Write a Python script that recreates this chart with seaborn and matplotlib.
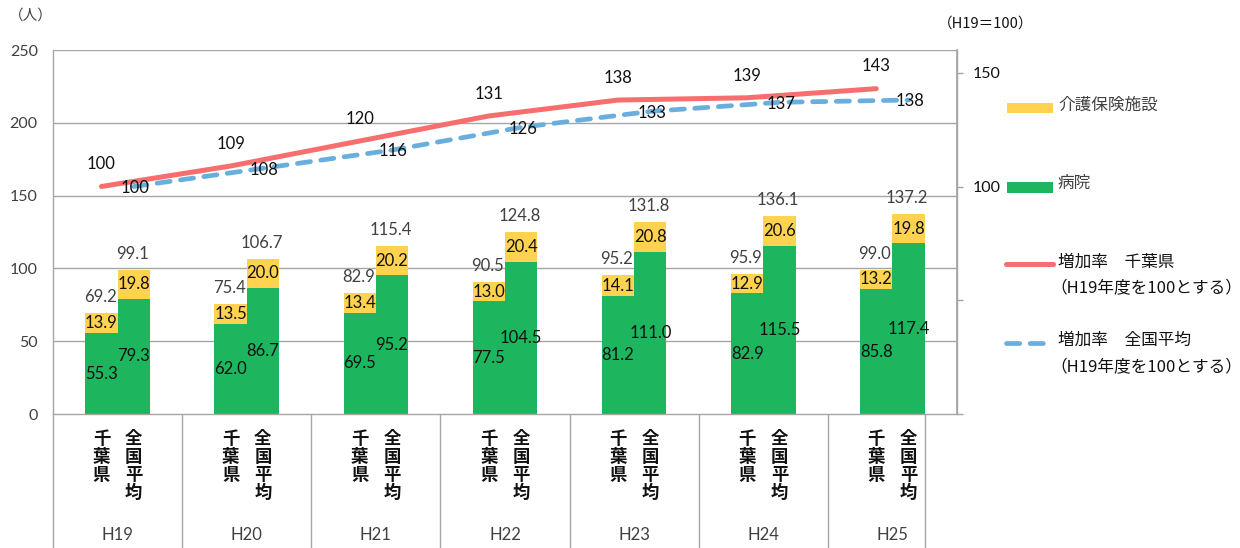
import matplotlib
matplotlib.use("Agg")
import matplotlib.pyplot as plt
from matplotlib.patches import Rectangle
from matplotlib.lines import Line2D
import seaborn as sns
import pandas as pd

# --- data -------------------------------------------------------------
years = ["H19", "H20", "H21", "H22", "H23", "H24", "H25"]
regions = ["千葉県", "全国平均"]

chiba_hospital = [55.3, 62.0, 69.5, 77.5, 81.2, 82.9, 85.8]
chiba_care = [13.9, 13.5, 13.4, 13.0, 14.1, 12.9, 13.2]
chiba_total = [69.2, 75.4, 82.9, 90.5, 95.2, 95.9, 99.0]

nation_hospital = [79.3, 86.7, 95.2, 104.5, 111.0, 115.5, 117.4]
nation_care = [19.8, 20.0, 20.2, 20.4, 20.8, 20.6, 19.8]
nation_total = [99.1, 106.7, 115.4, 124.8, 131.8, 136.1, 137.2]

chiba_index = [100, 109, 120, 131, 138, 139, 143]
nation_index = [100, 108, 116, 126, 133, 137, 138]

left_ticks = [0, 50, 100, 150, 200, 250]
right_ticks = [0, 50, 100, 150]
right_tick_labels = ["", "", "100", "150"]

legend_labels = ["介護保険施設", "病院", "増加率　千葉県", "増加率　全国平均"]
legend_note = "（H19年度を100とする）"

# --- style ------------------------------------------------------------
sns.set_theme(style="white")
plt.rcParams["font.family"] = ["Lato", "Noto Sans CJK JP", "DejaVu Sans"]

YELLOW = "#FFD24F"
GREEN = "#1DB65E"
RED = "#F76E6E"
BLUE = "#6AAEDD"
GRID = "#A6A6A6"
TXT = "#404040"
INK = "#111111"

W, H = 1240, 548
fig = plt.figure(figsize=(W / 100, H / 100), dpi=100)
fig.patch.set_facecolor("white")


def fx(px):
    return px / W


def fy(py):
    return 1 - py / H


ax = fig.add_axes([fx(53), fy(414), (957 - 53) / W, (414 - 50) / H])

rows = []
for i, y in enumerate(years):
    rows.append(dict(year=y, region=regions[0], total=chiba_total[i],
                     hospital=chiba_hospital[i], care=chiba_care[i]))
    rows.append(dict(year=y, region=regions[1], total=nation_total[i],
                     hospital=nation_hospital[i], care=nation_care[i]))
df = pd.DataFrame(rows)

# stacked bars: full height in yellow, hospital part in green over it
sns.barplot(data=df, x="year", y="total", hue="region", hue_order=regions,
            palette=[YELLOW, YELLOW], width=0.5, gap=0, dodge=True,
            errorbar=None, saturation=1, linewidth=0, legend=False, ax=ax,
            zorder=2)
sns.barplot(data=df, x="year", y="hospital", hue="region", hue_order=regions,
            palette=[GREEN, GREEN], width=0.5, gap=0, dodge=True,
            errorbar=None, saturation=1, linewidth=0, legend=False, ax=ax,
            zorder=2)

ax.set_xlim(-0.5, 6.5)
ax.set_ylim(0, 250)
ax.set_yticks(left_ticks)
ax.set_yticklabels([str(t) for t in left_ticks])
ax.tick_params(axis="y", length=0, pad=11, labelsize=11.5, labelcolor=TXT)
ax.set_xticks([])
ax.set_xlabel("")
ax.set_ylabel("")
ax.grid(False)
for t in left_ticks[1:]:
    ax.axhline(t, color=GRID, lw=1, zorder=1)
ax.spines["top"].set_visible(False)
for side in ["left", "right", "bottom"]:
    ax.spines[side].set_color(GRID)
    ax.spines[side].set_linewidth(1)

offsets = [-0.125, 0.125]
for i in range(len(years)):
    for j, (hosp, care, tot) in enumerate([
        (chiba_hospital[i], chiba_care[i], chiba_total[i]),
        (nation_hospital[i], nation_care[i], nation_total[i]),
    ]):
        xp = i + offsets[j]
        ax.text(xp, hosp / 2, f"{hosp:.1f}", ha="center", va="center",
                fontsize=12, color=INK, zorder=5)
        ax.text(xp, (hosp + tot) / 2, f"{care:.1f}", ha="center",
                va="center", fontsize=12, color=INK, zorder=5)
        ax.annotate(f"{tot:.1f}", (xp, tot), xytext=(-1, 11.5),
                    textcoords="offset points", ha="center", va="center",
                    fontsize=12, color=TXT, zorder=5)

# index lines on the secondary axis
ax2 = ax.twinx()
ax2.set_ylim(0, 160)
xs_chiba = [i + offsets[0] for i in range(len(years))]
xs_nation = [i + offsets[1] for i in range(len(years))]
DASH = (0, (2.8, 2.2))
sns.lineplot(x=xs_chiba, y=chiba_index, ax=ax2, color=RED, lw=3.6,
             solid_capstyle="round", zorder=3)
sns.lineplot(x=xs_nation, y=nation_index, ax=ax2, color=BLUE, lw=3.4,
             linestyle=DASH, dash_capstyle="round", zorder=3)
ax2.set_xlim(-0.5, 6.5)
ax2.set_yticks(right_ticks)
ax2.set_yticklabels(right_tick_labels)
ax2.tick_params(axis="y", direction="out", length=4, width=1, color=GRID,
                pad=7, labelsize=11.5, labelcolor=INK)
ax2.grid(False)
for side in ["top", "left", "bottom"]:
    ax2.spines[side].set_visible(False)
ax2.spines["right"].set_color(GRID)

for xp, v in zip(xs_chiba, chiba_index):
    ax2.annotate(str(v), (xp, v), xytext=(0, 16), textcoords="offset points",
                 ha="center", va="center", fontsize=12, color=INK, zorder=6)
for xp, v in zip(xs_nation, nation_index):
    ax2.annotate(str(v), (xp, v), xytext=(1, -1), textcoords="offset points",
                 ha="center", va="center", fontsize=12, color=INK, zorder=6)

# category area below the plot
trans = ax.get_xaxis_transform()
bottom = -(H - 414) / 364 - 0.01
for xb in [-0.5, 0.5, 1.5, 2.5, 3.5, 4.5, 5.5, 6.25]:
    ax.plot([xb, xb], [0, bottom], color=GRID, lw=1, transform=trans,
            clip_on=False, zorder=1)

cjk = ["Noto Sans CJK JP", "DejaVu Sans"]
for i, y in enumerate(years):
    for j, name in enumerate(regions):
        ax.text(i + offsets[j], -(430 - 414) / 364, "\n".join(name),
                transform=trans, ha="center", va="top", fontsize=12.5,
                linespacing=1.0, color=INK, family=cjk, fontweight="bold")
    ax.text(i, -(535 - 414) / 364, y, transform=trans, ha="center",
            va="center", fontsize=12, color=TXT)

# unit captions
fig.text(fx(9), fy(16), "（人）", ha="left", va="center", fontsize=10.5,
         color=TXT, family=cjk)
fig.text(fx(938), fy(24), "（H19＝100）", ha="left", va="center",
         fontsize=10.5, color=INK, family=cjk)

# legend
fig.add_artist(Rectangle((fx(1007), fy(113)), fx(1053) - fx(1007),
                         fy(103) - fy(113), color=YELLOW, lw=0))
fig.text(fx(1058), fy(105), legend_labels[0], ha="left", va="center",
         fontsize=12, color=TXT, family=cjk)
fig.add_artist(Rectangle((fx(1007), fy(193)), fx(1053) - fx(1007),
                         fy(182) - fy(193), color=GREEN, lw=0))
fig.text(fx(1058), fy(183), legend_labels[1], ha="left", va="center",
         fontsize=12, color=TXT, family=cjk)

fig.add_artist(Line2D([fx(1006), fx(1053)], [fy(264), fy(264)], color=RED,
                      lw=3.6, solid_capstyle="round"))
fig.text(fx(1058), fy(262), legend_labels[2], ha="left", va="center",
         fontsize=12, color=INK, family=cjk)
fig.text(fx(1050), fy(289), legend_note, ha="left", va="center",
         fontsize=12, color=INK, family=cjk)

fig.add_artist(Line2D([fx(1006), fx(1053)], [fy(343), fy(343)], color=BLUE,
                      lw=3.4, linestyle=DASH, dash_capstyle="round"))
fig.text(fx(1058), fy(340), legend_labels[3], ha="left", va="center",
         fontsize=12, color=INK, family=cjk)
fig.text(fx(1050), fy(368), legend_note, ha="left", va="center",
         fontsize=12, color=INK, family=cjk)

fig.savefig("out.png", dpi=100, facecolor="white")
